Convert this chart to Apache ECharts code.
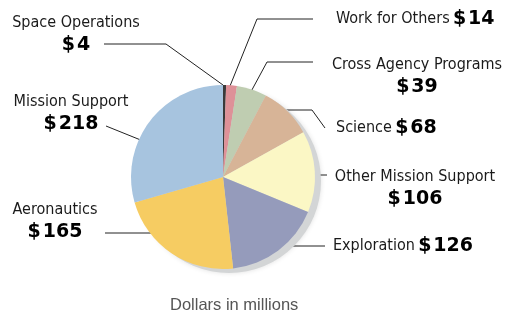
<!DOCTYPE html>
<html>
<head>
<meta charset="utf-8">
<style>
  html, body { margin: 0; padding: 0; background: #fff; }
  #chart { width: 509px; height: 316px; }
</style>
<script src="https://cdn.jsdelivr.net/npm/echarts@6/dist/echarts.min.js"></script>
</head>
<body>
<div id="chart"></div>
<script>
// 数据（百万美元）
var names = ['Space Operations', 'Work for Others', 'Cross Agency Programs', 'Science',
             'Other Mission Support', 'Exploration', 'Aeronautics', 'Mission Support'];
var values = [4, 14, 39, 68, 106, 126, 165, 218];
var colors = ['#3a3a3a', '#de9198', '#bfcdb1', '#d7b497', '#fbf7c5', '#959bbb', '#f6cc62', '#a7c4df'];
// 标签写法：两行 or 一行
var twoLine = [true, false, true, false, true, false, true, true];

// 标签位置 + 引线（像素）
var labelPos = [
    { x: 76, y: 34, align: 'center', line: [[223, 85], [166, 44], [104, 44]] },
    { x: 336, y: 19, align: 'left', line: [[230, 86], [257, 19], [313, 19]] },
    { x: 417, y: 76, align: 'center', line: [[247, 99], [267, 62], [313, 62]] },
    { x: 336, y: 128, align: 'left', line: [[275, 110], [312, 110], [325, 128]] },
    { x: 415, y: 188, align: 'center', line: [[284, 175], [327, 175]] },
    { x: 333, y: 246, align: 'left', line: [[258, 246], [325, 246]] },
    { x: 55, y: 221, align: 'center', line: [[168, 233], [105, 233]] },
    { x: 71, y: 113, align: 'center', line: [[158, 147], [106, 126]] }
];

var pieData = names.map(function (n, i) {
    return { name: n, value: values[i], itemStyle: { color: colors[i] } };
});

var option = {
    animation: false,
    title: {
        text: 'Dollars in millions',
        left: 165,
        top: 292,
        textStyle: {
            fontFamily: 'Liberation Sans',
            fontSize: 16.5,
            fontWeight: 'normal',
            color: '#555'
        }
    },
    series: [{
        // 阴影
        type: 'pie',
        silent: true,
        center: [229, 181],
        radius: 92,
        label: { show: false },
        labelLine: { show: false },
        itemStyle: {
            color: '#d3d5d6',
            shadowBlur: 5,
            shadowColor: 'rgba(0,0,0,0.12)'
        },
        data: [1]
    }, {
        type: 'pie',
        center: [223, 177],
        radius: 92,
        startAngle: 90,
        clockwise: true,
        avoidLabelOverlap: false,
        itemStyle: { borderWidth: 0 },
        label: {
            show: true,
            position: 'outside',
            formatter: function (p) {
                var i = p.dataIndex;
                var v = '{v|$\u200A' + p.value + '}';
                if (twoLine[i]) {
                    return '{n|' + p.name + '}\n' + v;
                }
                return '{n|' + p.name + '} ' + v;
            },
            rich: {
                n: {
                    fontFamily: '"DejaVu Sans Condensed", "DejaVu Sans", sans-serif',
                    fontSize: 16,
                    color: '#1a1a1a',
                    lineHeight: 23
                },
                v: {
                    fontFamily: 'DejaVu Sans',
                    fontWeight: 'bold',
                    fontSize: 19,
                    color: '#000',
                    lineHeight: 23
                }
            }
        },
        labelLine: {
            show: true,
            lineStyle: { color: '#222', width: 1 }
        },
        labelLayout: function (params) {
            var lp = labelPos[params.dataIndex];
            return {
                x: lp.x,
                y: lp.y,
                align: lp.align,
                verticalAlign: 'middle',
                labelLinePoints: lp.line
            };
        },
        data: pieData
    }]
};

var chart = echarts.init(document.getElementById('chart'));
chart.setOption(option);
</script>
</body>
</html>
